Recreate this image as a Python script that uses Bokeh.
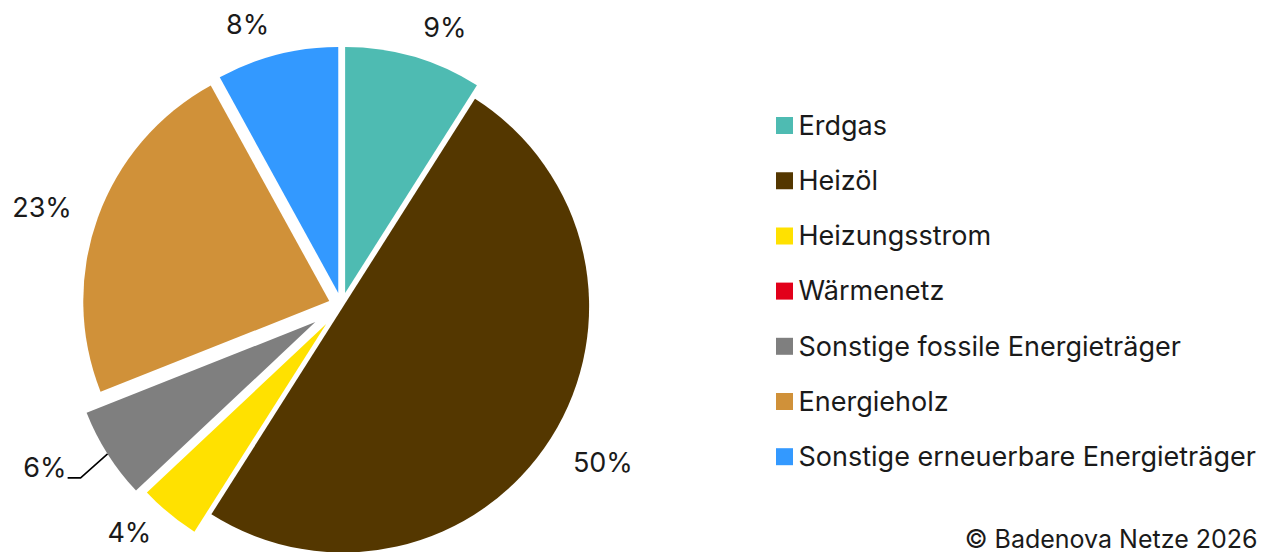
import math
from bokeh.plotting import figure
from bokeh.models import Range1d, ColumnDataSource
from bokeh.embed import file_html
from bokeh.resources import INLINE
from bokeh.core.properties import value

# ---------------- data ----------------
categories = ["Erdgas", "Heizöl", "Heizungsstrom", "Wärmenetz",
              "Sonstige fossile Energieträger", "Energieholz",
              "Sonstige erneuerbare Energieträger"]
shares = [9, 50, 4, 0, 6, 23, 8]
colors = ["#4EBBB2", "#543700", "#FFE100", "#E2001A", "#7F7F7F", "#D09139", "#3399FF"]
copyright_text = "© Badenova Netze 2026"

# ---------------- style / layout ----------------
FONT = "Inter"
FS = 27
CAP = 19.5
FIX = 10          # renderer places alphabetic baseline lower; compensate
W, H = 1264, 552

def dx(X):  # page px -> data x
    return X

def dy(Y):  # page px -> data y (y up)
    return H - Y

CX, CY = dx(341), dy(305)
R = 246
explode = [13, 2, 24, 0, 31, 13, 13]
label_gap = 30
label_nudge = [(17, 0), (1, 8), (-8, -4), (0, 0), (0, 0), (1, 0), (-17, -1)]

p = figure(width=W, height=H, x_range=Range1d(0, W), y_range=Range1d(0, H),
           output_backend="svg", toolbar_location=None, min_border=0,
           x_axis_type=None, y_axis_type=None)
p.grid.visible = False
p.outline_line_color = None
p.background_fill_color = "white"
p.border_fill_color = "white"

total = float(sum(shares))
cum = 0.0
wx, wy, ws, we, wc = [], [], [], [], []
lx, ly, lt = [], [], []
for i, v in enumerate(shares):
    a0 = cum / total * 360.0
    cum += v
    a1 = cum / total * 360.0
    if v <= 0:
        continue
    b = math.radians((a0 + a1) / 2.0)
    ux, uy = math.sin(b), math.cos(b)
    cx = CX + explode[i] * ux
    cy = CY + explode[i] * uy
    wx.append(cx); wy.append(cy)
    ws.append(math.radians(90 - a0)); we.append(math.radians(90 - a1))
    wc.append(colors[i])
    txt = f"{v}%"
    if categories[i] == "Sonstige fossile Energieträger":
        mx, my = cx + R * ux, cy + R * uy
        ex, ey = mx - 27, my - 24
        fx, fy = ex - 13, ey
        p.line([mx, ex, fx], [my, ey, fy], line_color="black", line_width=1.6)
        p.text([fx - 1], [fy + FIX], text=[txt], text_align="right", text_baseline="alphabetic",
               text_font=value(FONT), text_font_size=f"{FS}px", text_color="#1a1a1a")
        continue
    ax = cx + (R + label_gap) * ux
    ay = cy + (R + label_gap) * uy
    w = 0.75 * FS * len(txt)
    tx = ax + w / 2 * ux + label_nudge[i][0]
    ty = ay - label_nudge[i][1]
    lx.append(tx); ly.append(ty - CAP / 2 + FIX); lt.append(txt)

p.wedge(x="x", y="y", radius=R, start_angle="s", end_angle="e", direction="clock",
        fill_color="c", line_color=None,
        source=ColumnDataSource(dict(x=wx, y=wy, s=ws, e=we, c=wc)))
p.text(x=lx, y=ly, text=lt, text_align="center", text_baseline="alphabetic",
       text_font=value(FONT), text_font_size=f"{FS}px", text_color="#1a1a1a")

# legend
leg_x = dx(784)
leg_y0 = 125
leg_step = 55.2
ly_sq = [dy(leg_y0 + k * leg_step) for k in range(len(categories))]
p.rect(x=[leg_x] * len(categories), y=ly_sq, width=17, height=17,
       fill_color=colors, line_color=None)
p.text(x=[dx(798)] * len(categories), y=[y - CAP / 2 + FIX for y in ly_sq], text=categories,
       text_align="left", text_baseline="alphabetic",
       text_font=value(FONT), text_font_size=f"{FS}px", text_color="#1a1a1a")

p.text(x=[dx(1257)], y=[dy(548) + FIX], text=[copyright_text], text_align="right",
       text_baseline="alphabetic", text_font=value(FONT), text_font_size="25px",
       text_color="#1a1a1a")

open("out.html", "w").write(file_html(p, INLINE))
